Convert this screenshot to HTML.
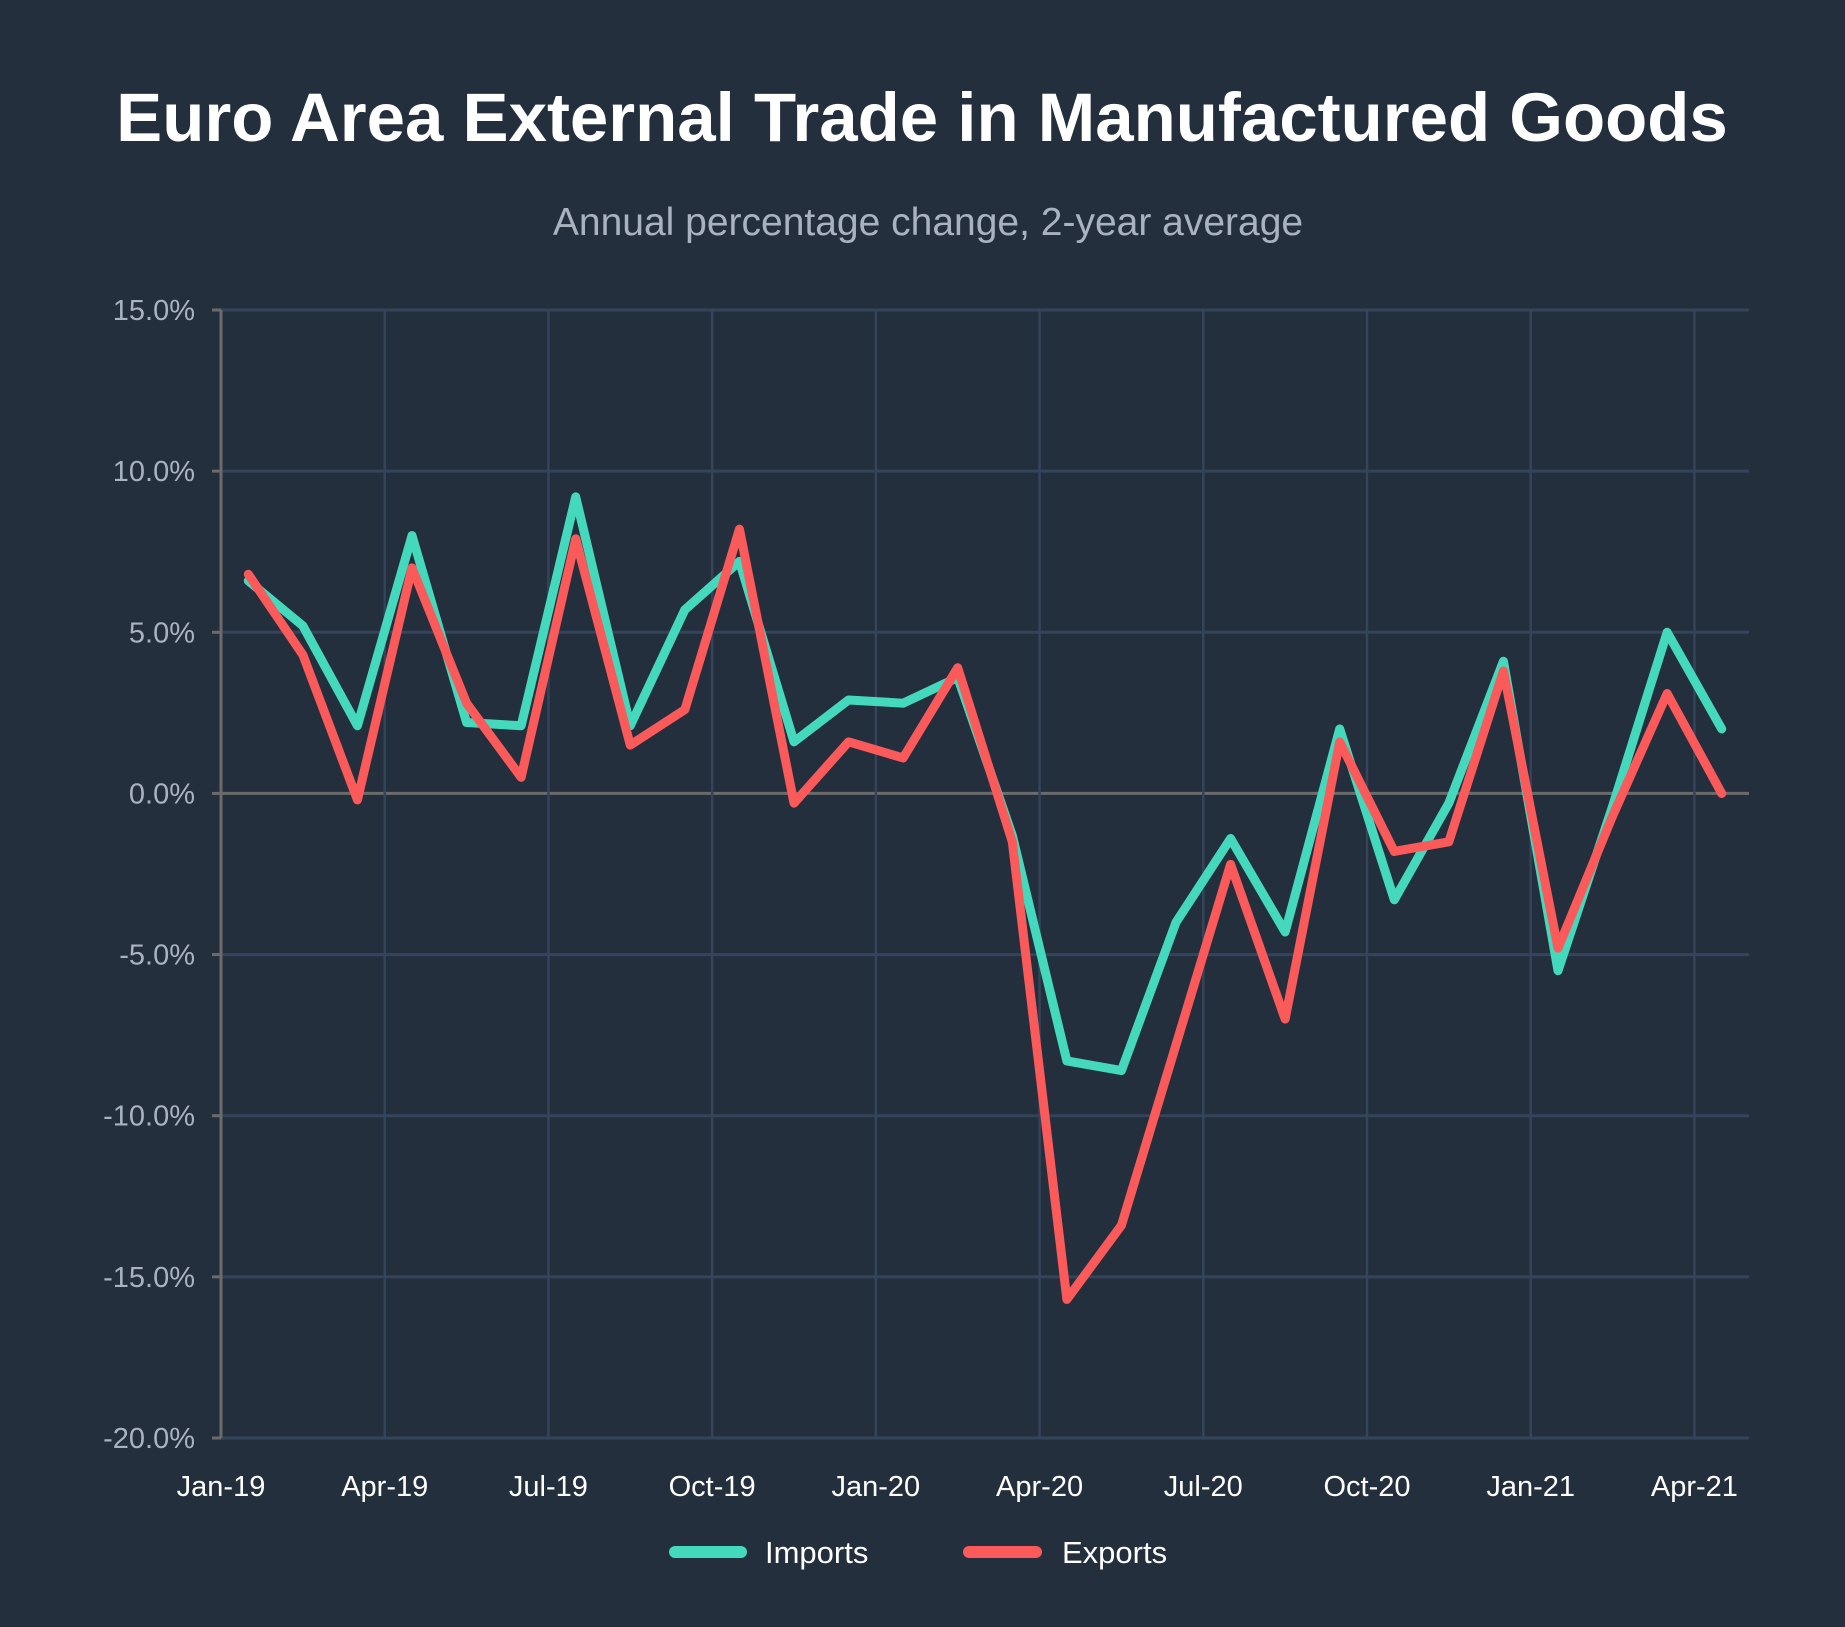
<!DOCTYPE html>
<html><head><meta charset="utf-8"><style>
html,body{margin:0;padding:0;background:#242f3e;}
svg{display:block;font-family:"Liberation Sans",sans-serif;}
</style></head><body>
<svg width="1845" height="1627" viewBox="0 0 1845 1627" xmlns="http://www.w3.org/2000/svg">
<rect width="1845" height="1627" fill="#242f3e"/>
<text x="922" y="141" text-anchor="middle" font-size="69" font-weight="bold" fill="#ffffff">Euro Area External Trade in Manufactured Goods</text>
<text x="928" y="235" text-anchor="middle" font-size="39" fill="#a9b3bf">Annual percentage change, 2-year average</text>
<g id="plot"></g>
<g>
<line x1="675" y1="1552" x2="741" y2="1552" stroke="#44d9bd" stroke-width="12" stroke-linecap="round"/>
<text x="765" y="1563" font-size="31" fill="#ffffff">Imports</text>
<line x1="969" y1="1552" x2="1036" y2="1552" stroke="#fa5a5a" stroke-width="12" stroke-linecap="round"/>
<text x="1062" y="1563" font-size="31" fill="#ffffff">Exports</text>
</g>
</svg>
<script>
const months = ["Jan-19","Feb-19","Mar-19","Apr-19","May-19","Jun-19","Jul-19","Aug-19","Sep-19","Oct-19","Nov-19","Dec-19","Jan-20","Feb-20","Mar-20","Apr-20","May-20","Jun-20","Jul-20","Aug-20","Sep-20","Oct-20","Nov-20","Dec-20","Jan-21","Feb-21","Mar-21","Apr-21"];
const imports = [6.6,5.2,2.1,8.0,2.2,2.1,9.2,2.1,5.7,7.2,1.6,2.9,2.8,3.6,-1.3,-8.3,-8.6,-4.0,-1.4,-4.3,2.0,-3.3,-0.3,4.1,-5.5,-0.4,5.0,2.0];
const exports_ = [6.8,4.3,-0.2,7.0,2.8,0.5,7.9,1.5,2.6,8.2,-0.3,1.6,1.1,3.9,-1.5,-15.7,-13.4,-7.8,-2.2,-7.0,1.6,-1.8,-1.5,3.8,-4.8,-0.7,3.1,0.0];
const yTicks = [15,10,5,0,-5,-10,-15,-20];
const xTickLabels = ["Jan-19","Apr-19","Jul-19","Oct-19","Jan-20","Apr-20","Jul-20","Oct-20","Jan-21","Apr-21"];

const L=221,R=1749,T=310,B=1438,yMax=15,yMin=-20;
const n=months.length;
const step=(R-L)/n;
const y=v=>T+(yMax-v)/(yMax-yMin)*(B-T);
const xb=i=>L+i*step;
const xc=i=>L+(i+0.5)*step;
const NS="http://www.w3.org/2000/svg";
const g=document.getElementById('plot');
function mk(tag,attrs){const e=document.createElementNS(NS,tag);for(const k in attrs)e.setAttribute(k,attrs[k]);g.appendChild(e);return e;}

yTicks.forEach(v=>{
  const ln=mk('line',{x1:L,x2:R,y1:y(v),y2:y(v),stroke:v===0?'#6b6b6b':'#34445a','stroke-width':3});
  
  
  const tk=mk('line',{x1:L-9,x2:L,y1:y(v),y2:y(v),stroke:'#6b6b6b','stroke-width':3});
  
  
  const t=mk('text',{x:L-26,y:y(v)+10,'text-anchor':'end','font-size':29,fill:'#a9b3bf'});
  t.textContent=v.toFixed(1)+'%';
  
  
});
xTickLabels.forEach((lab,k)=>{
  const i=k*3;
  if(i>0){const ln=mk('line',{x1:xb(i),x2:xb(i),y1:T,y2:B,stroke:'#34445a','stroke-width':2.5});
  
  }
  const t=mk('text',{x:xb(i),y:B+58,'text-anchor':'middle','font-size':29,fill:'#ffffff'});
  t.textContent=lab;
  
  
});
const ax=mk('line',{x1:L,x2:L,y1:T,y2:B,stroke:'#6b6b6b','stroke-width':3});


function series(vals,color,name){
  const p=mk('polyline',{points:vals.map((v,i)=>xc(i)+','+y(v)).join(' '),fill:'none',stroke:color,'stroke-width':9,'stroke-linejoin':'round','stroke-linecap':'round'});
  
  
}
series(imports,'#44d9bd','imports-line');
series(exports_,'#fa5a5a','exports-line');
</script>
</body></html>
